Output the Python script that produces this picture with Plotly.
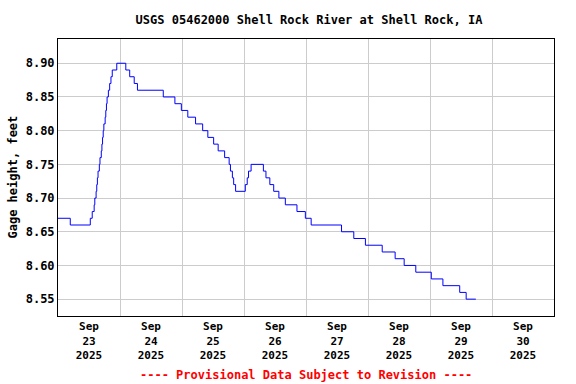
import plotly.graph_objects as go

# Change points of the gage height record (time, feet)
times = [
    "2025-09-23 00:00", "2025-09-23 04:45", "2025-09-23 12:30", "2025-09-23 13:15",
    "2025-09-23 14:00", "2025-09-23 14:15", "2025-09-23 14:45", "2025-09-23 15:00",
    "2025-09-23 15:15", "2025-09-23 15:30", "2025-09-23 16:00", "2025-09-23 16:15",
    "2025-09-23 16:45", "2025-09-23 17:00", "2025-09-23 17:15", "2025-09-23 17:30",
    "2025-09-23 17:45", "2025-09-23 18:15", "2025-09-23 18:30", "2025-09-23 18:45",
    "2025-09-23 19:00", "2025-09-23 19:30", "2025-09-23 20:00", "2025-09-23 20:30",
    "2025-09-23 21:00", "2025-09-23 22:45",
    "2025-09-24 02:15", "2025-09-24 03:45", "2025-09-24 05:30", "2025-09-24 06:45",
    "2025-09-24 16:45", "2025-09-24 21:15", "2025-09-24 23:45",
    "2025-09-25 02:15", "2025-09-25 05:15", "2025-09-25 08:00", "2025-09-25 10:00",
    "2025-09-25 12:15", "2025-09-25 14:00", "2025-09-25 16:30", "2025-09-25 18:15",
    "2025-09-25 18:45", "2025-09-25 19:30", "2025-09-25 20:00", "2025-09-25 20:45",
    "2025-09-26 00:30", "2025-09-26 01:15", "2025-09-26 01:45", "2025-09-26 02:45",
    "2025-09-26 07:30", "2025-09-26 08:30", "2025-09-26 10:00", "2025-09-26 11:30",
    "2025-09-26 13:30", "2025-09-26 16:00", "2025-09-26 20:30", "2025-09-26 23:45",
    "2025-09-27 02:00", "2025-09-27 13:45", "2025-09-27 18:30", "2025-09-27 23:00",
    "2025-09-28 05:30", "2025-09-28 10:30", "2025-09-28 14:00", "2025-09-28 18:30",
    "2025-09-29 00:30", "2025-09-29 05:00", "2025-09-29 11:30", "2025-09-29 14:00",
    "2025-09-29 17:45",
]
gage_ft = [
    8.67, 8.66, 8.67, 8.68,
    8.69, 8.70, 8.71, 8.72,
    8.73, 8.74, 8.75, 8.76,
    8.77, 8.78, 8.79, 8.80,
    8.81, 8.82, 8.83, 8.84,
    8.85, 8.86, 8.87, 8.88,
    8.89, 8.90,
    8.89, 8.88, 8.87, 8.86,
    8.85, 8.84, 8.83,
    8.82, 8.81, 8.80, 8.79,
    8.78, 8.77, 8.76, 8.75,
    8.74, 8.73, 8.72, 8.71,
    8.72, 8.73, 8.74, 8.75,
    8.74, 8.73, 8.72, 8.71,
    8.70, 8.69, 8.68, 8.67,
    8.66, 8.65, 8.64, 8.63,
    8.62, 8.61, 8.60, 8.59,
    8.58, 8.57, 8.56, 8.55,
    8.55,
]

day_labels = ["Sep<br>23<br>2025", "Sep<br>24<br>2025", "Sep<br>25<br>2025", "Sep<br>26<br>2025",
              "Sep<br>27<br>2025", "Sep<br>28<br>2025", "Sep<br>29<br>2025", "Sep<br>30<br>2025"]
label_pos = ["2025-09-%02d 12:00" % d for d in range(23, 31)]
grid_pos = ["2025-09-%02d 00:00" % d for d in range(24, 31)]
y_ticks = [8.55, 8.60, 8.65, 8.70, 8.75, 8.80, 8.85, 8.90]

FONT = "DejaVu Sans Mono"
L, R, T, B = 58, 22, 39, 68
PH = 384 - T - B

fig = go.Figure()
fig.add_trace(go.Scatter(
    x=times, y=gage_ft, mode="lines",
    line=dict(color="#0000ff", width=1, shape="hv"),
    hoverinfo="skip", showlegend=False,
))

fig.update_layout(
    width=576, height=384,
    margin=dict(l=L, r=R, t=T, b=B, autoexpand=False),
    paper_bgcolor="white", plot_bgcolor="white",
    font=dict(family=FONT, size=12, color="black"),
    title=dict(text="<b>USGS 05462000 Shell Rock River at Shell Rock, IA</b>",
               x=309 / 576, xanchor="center", y=1 - 20 / 384, yanchor="middle",
               font=dict(family=FONT, size=12, color="black")),
    annotations=[
        dict(text="<b>---- Provisional Data Subject to Revision ----</b>",
             xref="paper", yref="paper", x=0.5, y=-(375 - 316) / PH,
             xanchor="center", yanchor="middle",
             showarrow=False, font=dict(family=FONT, size=12, color="#ff0000")),
        dict(text="<b>Gage height, feet</b>", textangle=-90,
             xref="paper", yref="paper", x=-(58 - 12) / (576 - L - R), y=0.5,
             xanchor="center", yanchor="middle",
             showarrow=False, font=dict(family=FONT, size=12, color="black")),
    ],
)

fig.update_xaxes(
    type="date", automargin=False,
    range=["2025-09-23 00:00", "2025-10-01 00:00"],
    tickmode="array", tickvals=label_pos, ticktext=day_labels,
    showgrid=False, ticks="", tickangle=0,
    tickfont=dict(family=FONT, size=11, color="black", weight="bold"),
    minor=dict(tickmode="array", tickvals=grid_pos, showgrid=True,
               gridcolor="#cccccc", gridwidth=1, ticks=""),
    showline=True, linecolor="black", linewidth=1, mirror=True,
    zeroline=False,
)
fig.update_yaxes(
    automargin=False,
    range=[8.525, 8.936],
    tickmode="array", tickvals=y_ticks, tickformat=".2f",
    showgrid=True, gridcolor="#cccccc", gridwidth=1, ticks="",
    tickfont=dict(family=FONT, size=12, color="black", weight="bold"),
    showline=True, linecolor="black", linewidth=1, mirror=True,
    zeroline=False,
)

fig.write_html("out.html", config={"displayModeBar": False, "staticPlot": True},
               post_script="document.body.style.margin='0';")
